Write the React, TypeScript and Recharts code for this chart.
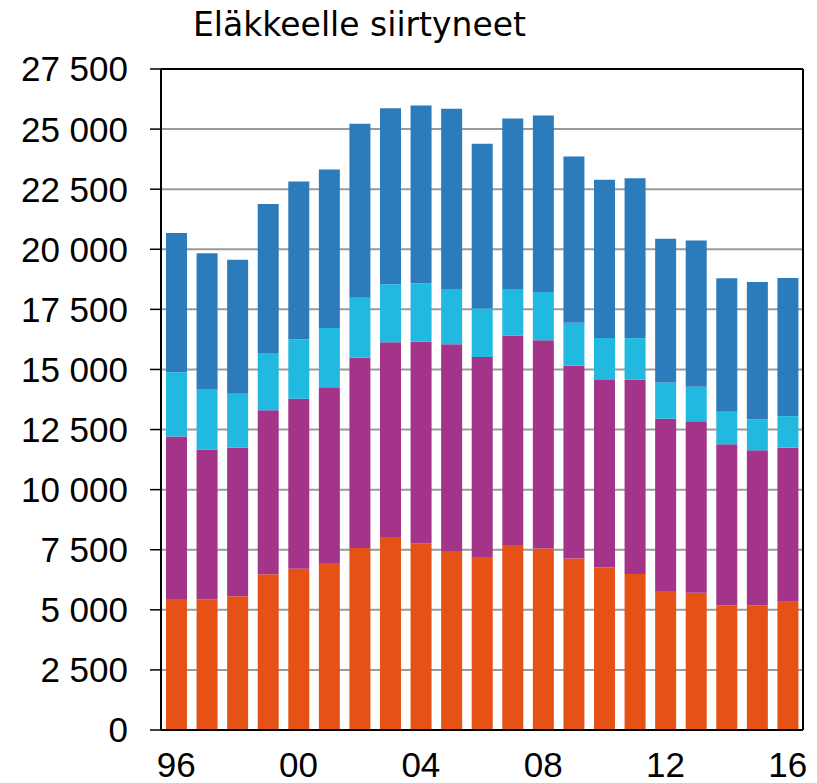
import { BarChart, Bar, XAxis, YAxis, CartesianGrid, ReferenceLine } from 'recharts'

const years = [
  '1996', '1997', '1998', '1999', '2000', '2001', '2002', '2003', '2004', '2005', '2006',
  '2007', '2008', '2009', '2010', '2011', '2012', '2013', '2014', '2015', '2016',
]

// segments from bottom to top
const orange = [5450, 5435, 5560, 6475, 6710, 6945, 7570, 8030, 7765, 7445, 7195, 7695, 7555, 7140, 6765, 6490, 5780, 5710, 5185, 5185, 5335]
const purple = [6765, 6240, 6185, 6825, 7070, 7310, 7920, 8100, 8390, 8600, 8320, 8705, 8665, 8015, 7795, 8095, 7170, 7130, 6700, 6450, 6410]
const cyan = [2665, 2510, 2245, 2380, 2480, 2465, 2495, 2420, 2435, 2300, 2025, 1945, 2000, 1790, 1745, 1720, 1510, 1440, 1355, 1300, 1315]
const blue = [5795, 5645, 5575, 6200, 6560, 6600, 7235, 7320, 7390, 7505, 6850, 7095, 7350, 6915, 6585, 6655, 5980, 6090, 5550, 5705, 5750]

const yTicks = [0, 2500, 5000, 7500, 10000, 12500, 15000, 17500, 20000, 22500, 25000, 27500]

const data = years.map((y, i) => ({
  year: y,
  orange: orange[i],
  purple: purple[i],
  cyan: cyan[i],
  blue: blue[i],
}))

const font = '"Liberation Sans", Arial, sans-serif'

const fmt = (v: number) => String(v).replace(/\B(?=(\d{3})+(?!\d))/g, ' ')

export default function App() {
  return (
    <div style={{ position: 'absolute', left: 0, top: 0, width: 817, height: 783, background: '#fff' }}>
      <div
        style={{
          position: 'absolute',
          left: 193,
          top: 8,
          fontFamily: '"DejaVu Sans", sans-serif',
          fontSize: 33,
          lineHeight: '33px',
          color: '#000',
          whiteSpace: 'nowrap',
        }}
      >
        Eläkkeelle siirtyneet
      </div>
      <BarChart
        width={817}
        height={783}
        data={data}
        margin={{ top: 69, right: 14, bottom: 0, left: 0 }}
        barSize={21}
      >
        <CartesianGrid horizontal vertical={false} stroke="#9a9a9a" strokeWidth={2} />
        <XAxis
          dataKey="year"
          height={53}
          interval={3}
          tickFormatter={(v: string) => v.slice(2)}
          tick={{ fontSize: 35, fill: '#000', fontFamily: font }}
          tickLine={false}
          tickSize={0}
          tickMargin={22}
          axisLine={{ stroke: '#000', strokeWidth: 2 }}
        />
        <YAxis
          width={161}
          domain={[0, 27500]}
          ticks={yTicks}
          interval={0}
          tickFormatter={fmt}
          tick={{ fontSize: 35, fill: '#000', fontFamily: font }}
          tickLine={{ stroke: '#000', strokeWidth: 1.5 }}
          tickSize={11}
          tickMargin={22}
          axisLine={{ stroke: '#000', strokeWidth: 2 }}
        />
        <Bar dataKey="orange" stackId="a" fill="#E65215" isAnimationActive={false} />
        <Bar dataKey="purple" stackId="a" fill="#A3348A" isAnimationActive={false} />
        <Bar dataKey="cyan" stackId="a" fill="#22B9E0" isAnimationActive={false} />
        <Bar dataKey="blue" stackId="a" fill="#2C7BBB" isAnimationActive={false} />
        <ReferenceLine y={27500} stroke="#000" strokeWidth={2} ifOverflow="visible" />
        <ReferenceLine x="2016" position="end" stroke="#000" strokeWidth={2} ifOverflow="visible" />
      </BarChart>
    </div>
  )
}
